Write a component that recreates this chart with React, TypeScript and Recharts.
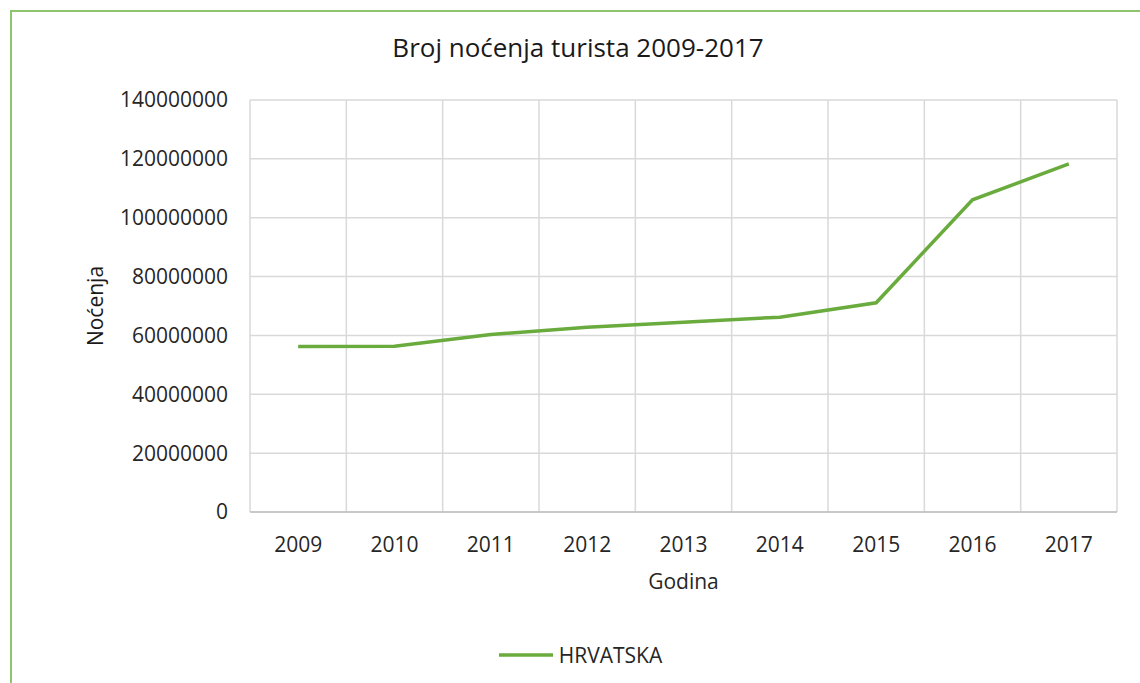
import React from 'react';
import {
  LineChart,
  Line,
  XAxis,
  YAxis,
  CartesianGrid,
  Legend,
} from 'recharts';

// Godine i broj noćenja (očitano s grafa)
const years = ['2009', '2010', '2011', '2012', '2013', '2014', '2015', '2016', '2017'];
const hrvatska = [56200000, 56300000, 60300000, 62800000, 64500000, 66200000, 71100000, 106100000, 118300000];
const yTicks = [0, 20000000, 40000000, 60000000, 80000000, 100000000, 120000000, 140000000];

const data = years.map((y, i) => ({ year: y, HRVATSKA: hrvatska[i] }));

const FONT = '"Open Sans", "Noto Sans", sans-serif';
const LINE_GREEN = '#6aab3e';
const GRID = '#d9d9d9';

export default function App() {
  // vertical grid lines sit on category boundaries, like Excel
  const boundaries = ({ offset }: any) =>
    Array.from({ length: years.length + 1 }, (_, i) => offset.left + (i * offset.width) / years.length);

  return (
    <div style={{ position: 'absolute', left: 0, top: 0, width: 1140, height: 683, background: '#fff', fontFamily: FONT, overflow: 'hidden' }}>
      <div
        style={{
          position: 'absolute',
          left: 10,
          top: 10,
          width: 1160,
          height: 700,
          borderTop: '2px solid #8fc46e',
          borderLeft: '2px solid #8fc46e',
        }}
      />
      <div
        style={{
          position: 'absolute',
          left: 0,
          width: 1156,
          top: 29,
          textAlign: 'center',
          fontSize: 26,
          color: '#1a1a1a',
        }}
      >
        Broj noćenja turista 2009-2017
      </div>
      <div style={{ position: 'absolute', left: 0, top: 0 }}>
        <LineChart width={1140} height={683} data={data} margin={{ top: 100, right: 23, left: 0, bottom: 8 }}>
          <CartesianGrid stroke={GRID} strokeWidth={1.5} verticalCoordinatesGenerator={boundaries} />
          <XAxis
            dataKey="year"
            scale="band"
            height={123}
            axisLine={{ stroke: '#bfbfbf', strokeWidth: 1.5 }}
            tickLine={false}
            tickSize={6}
            tickMargin={19}
            tick={{ fontSize: 21, fill: '#262626', fontFamily: FONT }}
            label={{ value: 'Godina', position: 'insideTop', offset: 62, fontSize: 21, fill: '#262626', fontFamily: FONT }}
          />
          <YAxis
            width={250}
            domain={[0, 140000000]}
            ticks={yTicks}
            interval={0}
            axisLine={false}
            tickLine={false}
            tickSize={6}
            tickMargin={16}
            tickFormatter={(v: number) => String(v)}
            tick={{ fontSize: 21, fill: '#262626', fontFamily: FONT }}
            label={{
              content: () => (
                <text
                  x={95}
                  y={306}
                  transform="rotate(-90 95 306)"
                  textAnchor="middle"
                  dominantBaseline="central"
                  fontSize={21}
                  fill="#1a1a1a"
                  fontFamily={FONT}
                >
                  Noćenja
                </text>
              ),
            }}
          />
          <Legend
            verticalAlign="bottom"
            content={() => (
              <div style={{ height: 40, display: 'flex', alignItems: 'center', justifyContent: 'center', paddingLeft: 44 }}>
                <svg width={54} height={6} style={{ marginRight: 6 }}>
                  <line x1={0} y1={3} x2={54} y2={3} stroke={LINE_GREEN} strokeWidth={3.5} />
                </svg>
                <span style={{ fontSize: 21, color: '#262626', fontFamily: FONT }}>HRVATSKA</span>
              </div>
            )}
          />
          <Line
            type="linear"
            dataKey="HRVATSKA"
            stroke={LINE_GREEN}
            strokeWidth={3.5}
            dot={false}
            activeDot={false}
            isAnimationActive={false}
          />
        </LineChart>
      </div>
    </div>
  );
}
